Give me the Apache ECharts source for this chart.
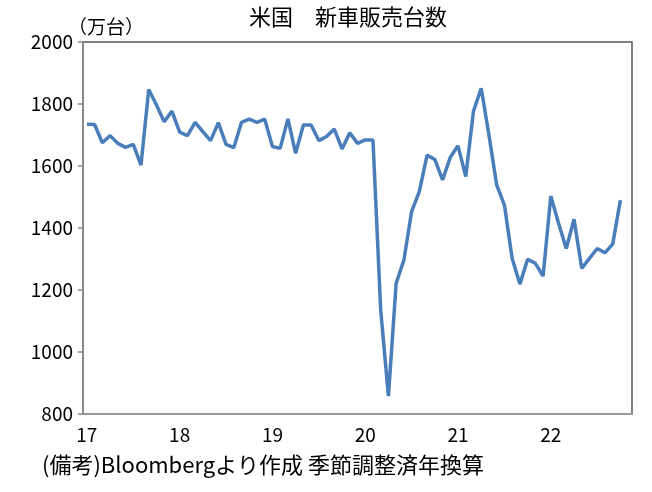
<!DOCTYPE html>
<html><head><meta charset="utf-8">
<script src="https://cdn.jsdelivr.net/npm/echarts@6/dist/echarts.min.js"></script>
<style>html,body{margin:0;padding:0;background:#fff}#c{width:652px;height:492px}</style>
</head><body><div id="c"></div>
<script>
// Monthly categories Jan 2017 .. Nov 2022 (last month has no value)
const years = [2017, 2018, 2019, 2020, 2021, 2022];
const months = [];
years.forEach(y => { for (let m = 1; m <= 12; m++) { if (y === 2022 && m > 11) break; months.push(y + '-' + String(m).padStart(2, '0')); } });

const sales = [
  1735, 1734, 1675, 1698, 1673, 1660, 1670, 1603, 1847, 1797, 1743, 1777,
  1709, 1698, 1741, 1711, 1682, 1740, 1670, 1659, 1741, 1751, 1741, 1751,
  1663, 1657, 1752, 1641, 1732, 1732, 1682, 1695, 1719, 1655, 1707, 1673,
  1684, 1684, 1135, 858, 1222, 1297, 1453, 1518, 1635, 1621, 1555, 1628,
  1665, 1566, 1777, 1851, 1700, 1539, 1474, 1302, 1219, 1299, 1286, 1245,
  1503, 1415, 1334, 1428, 1270, 1302, 1334, 1320, 1348, 1490, null
];

const yTicks = { min: 800, max: 2000, interval: 200 };
const title = '米国　新車販売台数';
const unit = '（万台）';
const note = '(備考)Bloombergより作成 季節調整済年換算';

const FONT = '"Noto Sans CJK JP", sans-serif';
const chart = echarts.init(document.getElementById('c'), null, { renderer: 'canvas' });
chart.setOption({
  animation: false,
  backgroundColor: '#fff',
  title: [
    { text: title, left: 244, top: 1, textStyle: { fontFamily: FONT, fontSize: 22, fontWeight: 'normal', color: '#000' } },
    { text: unit, left: 63, top: 12, textStyle: { fontFamily: FONT, fontSize: 19, fontWeight: 'normal', color: '#000' } },
    { text: note, left: 37, top: 449, textStyle: { fontFamily: FONT, fontSize: 22, fontWeight: 'normal', color: '#000' } }
  ],
  grid: { left: 83, right: 20, top: 42, bottom: 78, show: true, borderColor: '#555', borderWidth: 1.5 },
  xAxis: {
    type: 'category', data: months, boundaryGap: true,
    axisLine: { lineStyle: { color: '#999', width: 2 } },
    axisTick: { show: false },
    axisLabel: {
      interval: (i, v) => v.endsWith('-01'),
      formatter: v => v.slice(2, 4),
      fontFamily: FONT, fontSize: 19, color: '#000', margin: 11
    },
    splitLine: { show: false }
  },
  yAxis: {
    type: 'value', min: yTicks.min, max: yTicks.max, interval: yTicks.interval,
    axisLine: { show: true, lineStyle: { color: '#888', width: 2 } },
    axisTick: { show: true, length: 5, lineStyle: { color: '#888', width: 1.5 } },
    axisLabel: { formatter: v => String(v), fontFamily: FONT, fontSize: 19, color: '#000', margin: 10 },
    splitLine: { show: false }
  },
  series: [{
    type: 'line', data: sales, showSymbol: false, symbol: 'none',
    lineStyle: { color: '#4a7ebb', width: 3.5 }, connectNulls: false
  }]
});
</script></body></html>
